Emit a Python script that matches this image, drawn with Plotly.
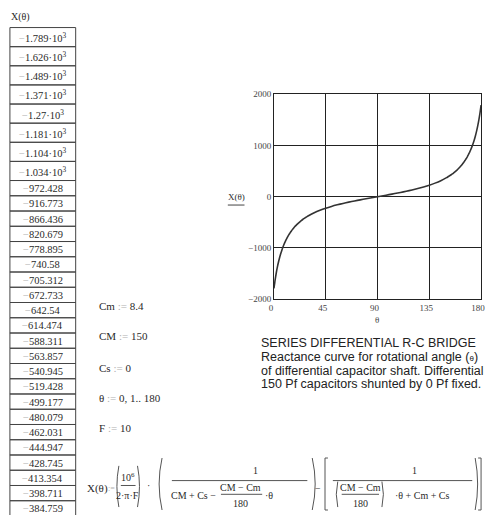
import plotly.graph_objects as go

# ---- data -------------------------------------------------------------
# tabulated reactance X(theta) for theta = 0 .. 29 degrees
table_theta = list(range(30))
table_x = [-1789, -1626, -1489, -1371, -1270, -1181, -1104, -1034,
           -972.428, -916.773, -866.436, -820.679, -778.895, -740.58,
           -705.312, -672.733, -642.54, -614.474, -588.311, -563.857,
           -540.945, -519.428, -499.177, -480.079, -462.031, -444.947,
           -428.745, -413.354, -398.711, -384.759]

# reactance curve over the full shaft rotation
curve_theta = list(range(30)) + [30, 35, 40, 45, 50, 55, 60, 65, 70, 75, 80, 85, 90,
                                 95, 100, 105, 110, 115, 120, 125, 130, 135, 140, 145, 150] \
              + list(range(151, 181))
curve_x = table_x + [-371.4, -313.0, -265.0, -224.5, -189.6, -158.9, -131.4, -106.3,
                     -83.1, -61.2, -40.3, -20.0, 0.0,
                     20.0, 40.3, 61.2, 83.1, 106.3, 131.4, 158.9, 189.6, 224.5,
                     265.0, 313.0, 371.4] + \
          [384.759, 398.711, 413.354, 428.745, 444.947, 462.031, 480.079, 499.177,
           519.428, 540.945, 563.857, 588.311, 614.474, 642.54, 672.733, 705.312,
           740.58, 778.895, 820.679, 866.436, 916.773, 972.428, 1034, 1104, 1181,
           1270, 1371, 1489, 1626, 1789]

x_ticks = [0, 45, 90, 135, 180]
y_ticks = [-2000, -1000, 0, 1000, 2000]

params = [("Cm", "8.4"), ("CM", "150"), ("Cs", "0"), ("θ", "0, 1.. 180"), ("F", "10")]

caption = [
    "SERIES DIFFERENTIAL R-C BRIDGE",
    "Reactance curve for rotational angle (<span style='font-size:8px'>θ</span>)",
    "of differential capacitor shaft. Differential",
    "150 Pf capacitors shunted by 0 Pf fixed.",
]

# ---- page geometry helpers (pixels -> paper) ---------------------------
W, H = 489, 515
def px(x):
    return x / W
def py(y):
    return 1 - y / H

SERIF = "Liberation Serif, Times New Roman, serif"
SANS = "Liberation Sans, Arial, sans-serif"
INK = "#2a2a2a"
FAINT = "#b0b0b0"

annotations = []
shapes = []

def text(x, y, s, size=10, family=SERIF, anchor="center", color=INK, xref="paper"):
    annotations.append(dict(x=px(x) if xref == "paper" else x, y=py(y), xref=xref,
                            yref="paper", text=s, showarrow=False, xanchor=anchor,
                            yanchor="middle",
                            font=dict(family=family, size=size, color=color)))

def line(x0, y0, x1, y1, color="#555", width=1):
    shapes.append(dict(type="line", xref="paper", yref="paper",
                       x0=px(x0), y0=py(y0), x1=px(x1), y1=py(y1),
                       line=dict(color=color, width=width)))

def rect(x0, y0, x1, y1, color="#444", width=1):
    shapes.append(dict(type="rect", xref="paper", yref="paper",
                       x0=px(x0), y0=py(y0), x1=px(x1), y1=py(y1),
                       line=dict(color=color, width=width), fillcolor="rgba(0,0,0,0)"))

def paren(x, y0, y1, side, bulge=5, color="#555"):
    # curved parenthesis: side=-1 opens to the right "(", side=+1 closes ")"
    xm = x + side * bulge
    path = f"M {px(x)},{py(y0)} Q {px(xm)},{py((y0 + y1) / 2)} {px(x)},{py(y1)}"
    shapes.append(dict(type="path", xref="paper", yref="paper", path=path,
                       line=dict(color=color, width=1)))

def bracket(x, y0, y1, side, color="#555"):
    tip = x - side * 3
    path = (f"M {px(tip)},{py(y0)} L {px(x)},{py(y0)} L {px(x)},{py(y1)} "
            f"L {px(tip)},{py(y1)}")
    shapes.append(dict(type="path", xref="paper", yref="paper", path=path,
                       line=dict(color=color, width=1)))

# ---- tabulated values ---------------------------------------------------
def fmt(v):
    sign = "<span style='color:%s'>−</span>" % FAINT if v < 0 else ""
    a = abs(v)
    if a >= 1000:
        return f"{sign}{a / 1000:.4g}·10<sup>3</sup>"
    return f"{sign}{a:.6g}"

text(16, 12, "X(θ)", size=10)
top = 23.0
for i, v in enumerate(table_x):
    h = 19.5 if abs(v) >= 1000 else 15.55
    rect(5, top, 72, top + h)
    text(38.5, top + h / 2 + 0.5, fmt(v), size=10.5)
    top += h

# ---- parameter definitions ---------------------------------------------
for (name, val), y in zip(params, [307, 338, 370, 401, 431]):
    text(94, y, f"{name} <span style='color:{FAINT}'>:=</span> {val}", size=11, anchor="left")

# ---- defining formula ---------------------------------------------------
text(94, 493, "X(θ)", size=11)
text(109, 493, f"<span style='color:{FAINT}'>:=</span>", size=8)
paren(116, 470, 512, -1, 4)
text(125, 481, "10<sup>6</sup>", size=10)
line(118, 490, 133, 490)
text(125, 500, "2·π·F", size=10)
paren(135, 470, 512, +1, 4)
text(146, 490, "·", size=10)

paren(160, 462, 515, -1, 6)
text(255, 475, "1", size=10)
line(170, 485, 308, 485)
text(192, 500, "CM + Cs −", size=10)
text(240, 492, "CM − Cm", size=10)
line(220, 499, 262, 499)
text(240, 508, "180", size=10)
text(269, 500, "·θ", size=10)
paren(313, 462, 515, +1, 6)

text(319, 493, "−", size=10)

bracket(326, 462, 515, -1)
text(417, 475, "1", size=10)
line(334, 485, 476, 485)
paren(339, 486, 512, -1, 3)
text(362, 492, "CM − Cm", size=10)
line(343, 499, 381, 499)
text(362, 508, "180", size=10)
paren(384, 486, 512, +1, 3)
text(425, 500, "·θ + Cm + Cs", size=10)
paren(479, 462, 515, +1, 5)
bracket(485, 462, 515, +1)

# ---- plot labels and caption ---------------------------------------------
text(236, 196, "X(θ)", size=9)
line(227, 204, 244, 204, color="#444")
text(379, 321, "θ", size=9, color="#444")
for s, y in zip(caption, [345, 359, 373, 387]):
    text(259, y, s, size=12.5, family=SANS, anchor="left", color="#222")

# ---- figure ---------------------------------------------------------------
fig = go.Figure(go.Scatter(x=curve_theta, y=curve_x, mode="lines",
                           line=dict(color="#333", width=1.6, shape="spline", smoothing=0.6),
                           hoverinfo="skip"))

axis_common = dict(showgrid=True, gridcolor="#222", gridwidth=1, zeroline=False,
                   showline=True, mirror=True, linecolor="#222", linewidth=1,
                   ticks="", tickfont=dict(family=SERIF, size=9, color="#444"),
                   ticklabeloverflow="allow")

fig.update_layout(
    width=W, height=H, margin=dict(l=0, r=0, t=0, b=0),
    paper_bgcolor="white", plot_bgcolor="white", showlegend=False,
    xaxis=dict(domain=[px(274), px(485)], range=[0, 180], tickvals=x_ticks,
               anchor="y", ticklabelshift=-3, **axis_common),
    yaxis=dict(domain=[py(300), py(91)], range=[-2000, 2000], tickvals=y_ticks,
               anchor="x", **axis_common),
    annotations=annotations, shapes=shapes,
)

fig.write_html("out.html")
